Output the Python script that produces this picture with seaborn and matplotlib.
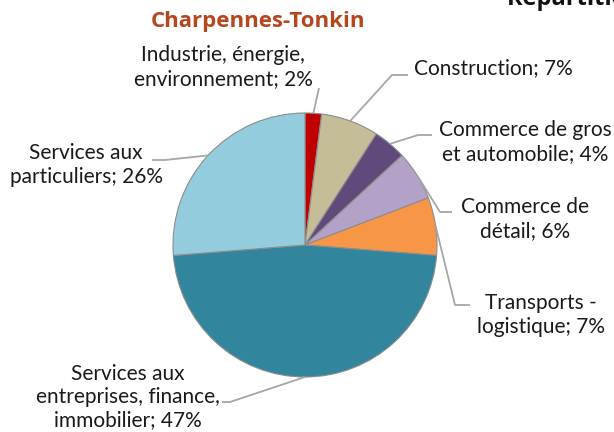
import numpy as np
import matplotlib
matplotlib.use("Agg")
import matplotlib.pyplot as plt
import seaborn as sns

# Sector breakdown of establishments (percent)
sectors = [
    "Industrie, énergie,\nenvironnement",
    "Construction",
    "Commerce de gros\net automobile",
    "Commerce de\ndétail",
    "Transports -\nlogistique",
    "Services aux\nentreprises, finance,\nimmobilier",
    "Services aux\nparticuliers",
]
shares = [2, 7, 4, 6, 7, 47, 26]
colors = ["#C00000", "#C4BD97", "#604A7B", "#B3A2C7", "#F79646", "#31859C", "#93CDDD"]

# Label placement (pixel space) and leader-line elbows
label_pos = [(223, 67), (493, 68), (525, 142), (525, 219), (541, 315), (128, 397), (86, 165)]
leader_pts = [
    [(319, 88)],
    [(392, 75), (408, 75)],
    [(418, 135), (432, 135)],
    [(440, 212), (452, 212)],
    [(455, 305), (470, 305)],
    [(230, 402), (222, 402)],
    [(165, 160), (152, 160)],
]

sns.set_theme(style="white")
plt.rcParams["font.family"] = ["Lato", "DejaVu Sans"]

fig = plt.figure(figsize=(6.14, 4.32), dpi=100)
ax = fig.add_axes([0, 0, 1, 1])

cx, cy, r = 305, 245, 132
wedges, _ = ax.pie(
    shares, colors=colors, startangle=-90, counterclock=True,
    center=(cx, cy), radius=r, frame=True,
    wedgeprops=dict(edgecolor="#8C8C8C", linewidth=0.8),
)
ax.set_xlim(0, 614)
ax.set_ylim(432, 0)
ax.set_aspect("equal")
ax.axis("off")

total = sum(shares)
cum = np.cumsum([0] + shares)
for i, (name, val) in enumerate(zip(sectors, shares)):
    mid = (cum[i] + val / 2) / total
    ang = np.deg2rad(-90 + mid * 360)
    ax_pt = (cx + r * np.cos(ang), cy + r * np.sin(ang))
    pts = [ax_pt] + leader_pts[i]
    xs, ys = zip(*pts)
    ax.plot(xs, ys, color="#A6A6A6", lw=1.3, solid_capstyle="butt", zorder=1)
    x, y = label_pos[i]
    ax.text(x, y, f"{name}; {val}%", ha="center", va="center",
            multialignment="center", fontsize=15, color="#1A1A1A",
            linespacing=1.2)

ax.text(258, 22, "Charpennes-Tonkin", ha="center", va="center",
        fontsize=16, fontweight="bold", color="#B5461E",
        family=["Open Sans", "DejaVu Sans"])
ax.text(507, 5, "Répartition des établissements", ha="left", va="baseline",
        fontsize=17, fontweight="bold", color="#111111",
        family=["Open Sans", "DejaVu Sans"], clip_on=False)

fig.savefig("out.png", dpi=100)
